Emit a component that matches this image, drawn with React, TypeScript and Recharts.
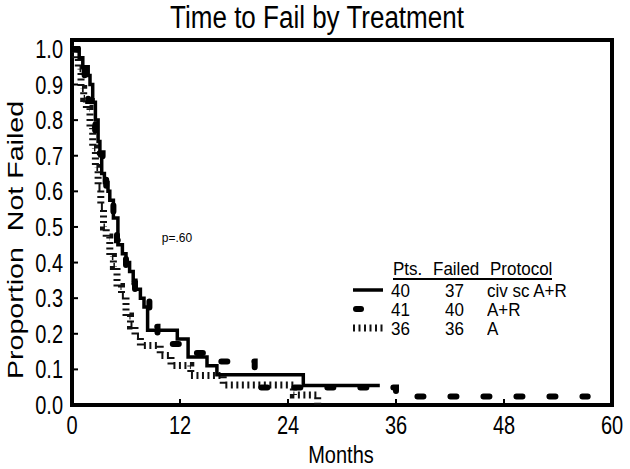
import React from 'react'
import { LineChart, Line, XAxis, YAxis, ReferenceArea } from 'recharts'

const FONT = '"Liberation Sans", Arial, sans-serif'

const xTicks = [0, 12, 24, 36, 48, 60]
const yTicks = [0, 0.1, 0.2, 0.3, 0.4, 0.5, 0.6, 0.7, 0.8, 0.9, 1.0]

// civ sc A+R (solid)
const civMonths = [0, 0.8, 1.2, 1.8, 2.0, 2.3, 2.6, 2.9, 3.1, 3.3, 3.6, 4.0, 4.2, 4.6, 5.1, 5.6, 6.0, 6.4, 6.8, 7.1, 7.6, 8.0, 8.4, 11.7, 12.9, 15.0, 16.1, 25.7, 34.2]
const civSurv = [1.0, 0.975, 0.95, 0.925, 0.9, 0.85, 0.8, 0.74, 0.7, 0.65, 0.625, 0.6, 0.575, 0.525, 0.45, 0.425, 0.4, 0.375, 0.35, 0.325, 0.3, 0.275, 0.21, 0.185, 0.135, 0.11, 0.085, 0.055, 0.055]

// A+R (heavy dashes)
const arMonths = [0, 0.6, 1.0, 1.4, 1.8, 2.2, 2.6, 3.0, 3.4, 3.8, 4.2, 4.6, 5.0, 5.5, 6.0, 6.5, 7.0, 7.6, 8.6, 9.5, 11.0, 13.0, 15.5, 20.3, 36.0, 57.3]
const arSurv = [1.0, 0.976, 0.951, 0.902, 0.854, 0.805, 0.756, 0.707, 0.659, 0.61, 0.561, 0.512, 0.463, 0.415, 0.366, 0.341, 0.317, 0.293, 0.22, 0.195, 0.171, 0.146, 0.122, 0.049, 0.024, 0.024]

// A (hatched)
const aMonths = [0, 0.4, 0.7, 1.0, 1.3, 1.6, 2.0, 2.3, 2.6, 2.9, 3.2, 3.5, 3.8, 4.2, 4.6, 5.0, 5.5, 6.0, 6.5, 7.0, 7.6, 9.8, 11.0, 13.2, 16.8, 24.6, 27.3]
const aSurv = [1.0, 0.972, 0.944, 0.889, 0.861, 0.833, 0.778, 0.722, 0.667, 0.611, 0.556, 0.5, 0.472, 0.417, 0.389, 0.333, 0.306, 0.25, 0.222, 0.194, 0.167, 0.139, 0.111, 0.083, 0.056, 0.028, 0.0]

const legendPts = [40, 41, 36]
const legendFailed = [37, 40, 36]
const legendProtocol = ['civ sc A+R', 'A+R', 'A']

const toRows = (months: number[], surv: number[]) => months.map((m, i) => ({ m, p: surv[i] }))

const civData = toRows(civMonths, civSurv)
const arData = toRows(arMonths, arSurv)
const aData = toRows(aMonths, aSurv)

const solidStyle = { stroke: '#000', strokeWidth: 3.5 }
const dashStyle = { stroke: '#000', strokeWidth: 6, strokeDasharray: '6 27', strokeLinecap: 'round' as const }
const hatchStyle = { stroke: '#111', strokeWidth: 7, strokeDasharray: '2 3.5' }
const sampleStyles = [solidStyle, dashStyle, hatchStyle]

function XTick(props: any) {
  const { x, y, payload } = props
  const inner = payload.value > 0 && payload.value < 60
  return (
    <g>
      {inner && <line x1={x} x2={x} y1={y - 2} y2={y - 6} stroke="#000" strokeWidth={2} />}
      <g transform={`translate(${x},${y + 20}) scale(1,1.25)`}>
        <text x={0} y={0} dy="0.36em" textAnchor="middle" fontSize={20} fontFamily={FONT} fill="#000">
          {payload.value}
        </text>
      </g>
    </g>
  )
}

function YTick(props: any) {
  const { x, y, payload } = props
  return (
    <g>
      <line x1={x + 2} x2={x + 6} y1={y} y2={y} stroke="#000" strokeWidth={2} />
      <g transform={`translate(${x - 9},${y}) scale(1,1.25)`}>
        <text x={0} y={0} dy="0.36em" textAnchor="end" fontSize={20} fontFamily={FONT} fill="#000">
          {payload.value.toFixed(1)}
        </text>
      </g>
    </g>
  )
}

function Txt(props: { x: number; y: number; size: number; sy?: number; anchor?: 'start' | 'middle'; children: React.ReactNode }) {
  const { x, y, size, sy = 1.2, anchor = 'start', children } = props
  return (
    <div
      style={{
        position: 'absolute',
        left: x,
        top: y - size / 2,
        fontSize: size,
        lineHeight: `${size}px`,
        fontFamily: FONT,
        whiteSpace: 'pre',
        transform: `translate(${anchor === 'middle' ? '-50%' : '0'},0) scaleY(${sy})`,
        transformOrigin: 'center',
        color: '#000',
      }}
    >
      {children}
    </div>
  )
}

export default function App() {
  return (
    <div style={{ position: 'absolute', left: 0, top: 0, width: 630, height: 469, background: '#fff', overflow: 'hidden' }}>
      <LineChart width={630} height={469} margin={{ top: 40, right: 18, bottom: 0, left: 0 }}>
        <XAxis
          type="number"
          dataKey="m"
          domain={[0, 60]}
          ticks={xTicks}
          axisLine={false}
          tickLine={false}
          tickSize={0}
          tickMargin={0}
          height={64}
          tick={<XTick />}
          allowDataOverflow
        />
        <YAxis
          type="number"
          domain={[0, 1.025]}
          ticks={yTicks}
          axisLine={false}
          tickLine={false}
          tickSize={0}
          tickMargin={0}
          width={72}
          tick={<YTick />}
          allowDataOverflow
        />
        <Line data={aData} dataKey="p" type="stepAfter" dot={false} isAnimationActive={false} {...hatchStyle} />
        <Line data={civData} dataKey="p" type="stepAfter" dot={false} isAnimationActive={false} {...solidStyle} />
        <Line data={arData} dataKey="p" type="stepAfter" dot={false} isAnimationActive={false} {...dashStyle} />
        <ReferenceArea x1={0} x2={60} y1={0} y2={1.025} fill="none" stroke="#000" strokeWidth={4} ifOverflow="visible" />
      </LineChart>

      <Txt x={317} y={17} size={26} anchor="middle">Time to Fail by Treatment</Txt>
      <Txt x={341} y={455} size={20} sy={1.15} anchor="middle">Months</Txt>
      <div
        style={{
          position: 'absolute',
          left: 16 - 150,
          top: 240 - 12,
          width: 300,
          height: 24,
          lineHeight: '24px',
          fontSize: 22,
          fontFamily: FONT,
          textAlign: 'center',
          whiteSpace: 'pre',
          transform: 'rotate(-90deg) scale(1.3,1)',
          transformOrigin: 'center',
        }}
      >
        {'Proportion  Not Failed'}
      </div>
      <Txt x={177} y={238} size={12} sy={1.1} anchor="middle">p=.60</Txt>

      <Txt x={393} y={268} size={17} sy={1.1}>Pts.</Txt>
      <Txt x={433} y={268} size={17} sy={1.1}>Failed</Txt>
      <Txt x={490} y={268} size={17} sy={1.1}>Protocol</Txt>
      <div style={{ position: 'absolute', left: 393, top: 278, width: 159, height: 2, background: '#000' }} />
      {legendProtocol.map((name, i) => {
        const cy = 290 + i * 19
        const s = sampleStyles[i]
        return (
          <React.Fragment key={name}>
            <svg style={{ position: 'absolute', left: 350, top: cy - 6 }} width={36} height={12}>
              {i === 1 ? (
                <line x1={6} x2={11} y1={6} y2={6} {...s} strokeDasharray={undefined} />
              ) : (
                <line x1={3} x2={33} y1={6} y2={6} {...s} />
              )}
            </svg>
            <Txt x={391} y={cy} size={17} sy={1.1}>{String(legendPts[i])}</Txt>
            <Txt x={445} y={cy} size={17} sy={1.1}>{String(legendFailed[i])}</Txt>
            <Txt x={487} y={cy} size={17} sy={1.1}>{name}</Txt>
          </React.Fragment>
        )
      })}
    </div>
  )
}
